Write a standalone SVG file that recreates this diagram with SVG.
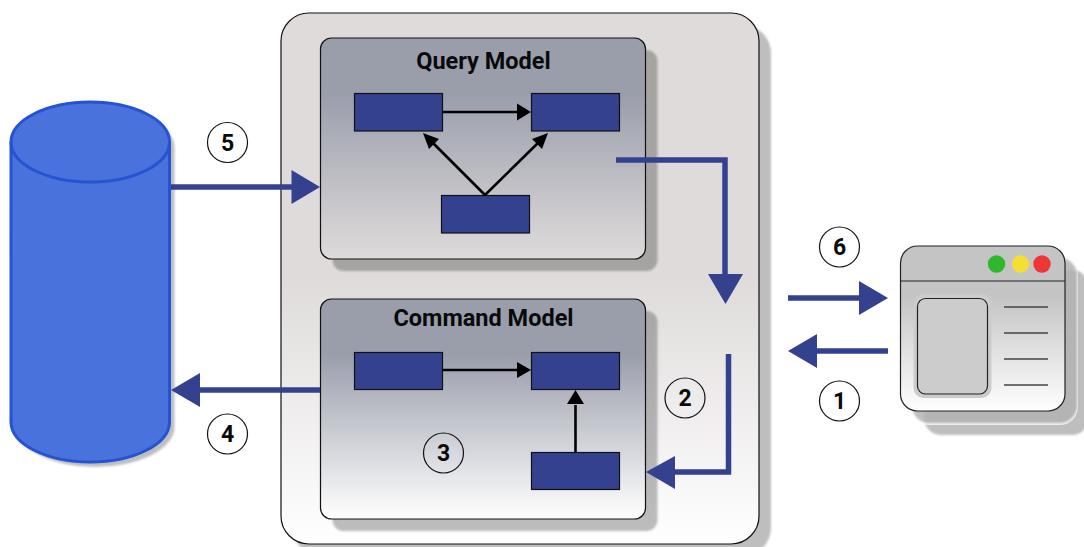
<svg xmlns="http://www.w3.org/2000/svg" width="1084" height="547" viewBox="0 0 1084 547">
<defs>
<linearGradient id="gOuter" x1="0" y1="0" x2="0" y2="1"><stop offset="0" stop-color="#dfdbdb"/><stop offset="0.5" stop-color="#dfdbdb"/><stop offset="1" stop-color="#ffffff"/></linearGradient>
<linearGradient id="gQ" x1="0" y1="0" x2="0" y2="1"><stop offset="0" stop-color="#9a9eab"/><stop offset="0.25" stop-color="#9a9eab"/><stop offset="1" stop-color="#dfdbdb"/></linearGradient>
<linearGradient id="gC" x1="0" y1="0" x2="0" y2="1"><stop offset="0" stop-color="#9a9eab"/><stop offset="0.25" stop-color="#9a9eab"/><stop offset="1" stop-color="#ffffff"/></linearGradient>
<linearGradient id="gB" x1="0" y1="0" x2="0" y2="1"><stop offset="0" stop-color="#c4c4c4"/><stop offset="0.3" stop-color="#c4c4c4"/><stop offset="1" stop-color="#ffffff"/></linearGradient>
<filter id="soft" x="-5%" y="-5%" width="110%" height="110%"><feGaussianBlur stdDeviation="1"/></filter>
</defs>
<style>
text{font-family:Roboto,"Liberation Sans",sans-serif;font-weight:700;fill:#0a0a0a;text-anchor:middle}
.t{font-size:23.500px}
.n{font-size:23px}
.s{fill:#000;opacity:.25;filter:url(#soft)}
.c{fill:#fff;stroke:#111;stroke-width:1.2}
.c3{fill:none;stroke:#111;stroke-width:1.2}
.b{fill:#33418f;stroke:#111;stroke-width:1.2}
.k{fill:none;stroke:#000;stroke-width:2.600}
.a{fill:none;stroke:#33418f;stroke-width:5.500}
.h{fill:#33418f}
.l{stroke:#444;stroke-width:1.300}
</style>
<g id="outer">
<rect class="s" x="293" y="25" width="478" height="531" rx="28"/>
<rect x="281" y="13" width="478" height="531" rx="28" fill="url(#gOuter)" stroke="#111" stroke-width="1.2"/>
</g>
<g id="query-model">
<rect class="s" x="332.500" y="50" width="325" height="221" rx="11"/>
<rect x="320.500" y="38" width="325" height="221" rx="11" fill="url(#gQ)" stroke="#111" stroke-width="1.2"/>
<text class="t" x="483.500" y="69">Query Model</text>
<rect class="b" x="354.500" y="93.500" width="88" height="37.500"/>
<rect class="b" x="531.500" y="93.500" width="88" height="37.500"/>
<rect class="b" x="441.500" y="195.500" width="88" height="37.500"/>
</g>
<g id="command-model">
<rect class="s" x="332.500" y="311" width="325" height="220" rx="11"/>
<rect x="320.500" y="299" width="325" height="220" rx="11" fill="url(#gC)" stroke="#111" stroke-width="1.2"/>
<text class="t" x="483.500" y="326">Command Model</text>
<rect class="b" x="354.500" y="352.500" width="88" height="37"/>
<rect class="b" x="531.500" y="352.500" width="88" height="37"/>
<rect class="b" x="531.500" y="452.500" width="88" height="37"/>
<circle class="c3" cx="443.500" cy="453" r="20"/>
<text class="n" x="443.500" y="461">3</text>
</g>
<g id="database">
<path class="s" d="M16 147A79.250 40 0 0 1 174.500 147V427A79.250 40 0 0 1 16 427Z"/>
<path d="M11 142A79.250 40 0 0 1 169.500 142V422A79.250 40 0 0 1 11 422Z" fill="#4a72dc" stroke="#2453d3" stroke-width="3"/>
<path d="M11 142A79.250 40 0 0 0 169.500 142" fill="none" stroke="#2453d3" stroke-width="3"/>
</g>
<g id="browser">
<rect class="s" x="924" y="270" width="165" height="165" rx="17"/>
<rect x="911" y="257" width="167" height="168" rx="18" fill="#fff" opacity=".8"/>
<rect class="s" x="912" y="258" width="165" height="165" rx="17"/>
<rect x="900.500" y="246" width="164.500" height="165" rx="17" fill="url(#gB)" stroke="#222" stroke-width="1.2"/>
<path d="M900.500 281H1065" stroke="#222" stroke-width="1.2"/>
<circle cx="996.500" cy="264" r="8.700" fill="#2eb82e"/>
<circle cx="1020.500" cy="264" r="8.700" fill="#f6df33"/>
<circle cx="1042" cy="264" r="8.700" fill="#ef3535"/>
<rect x="913.500" y="294" width="78" height="104" rx="10" fill="#cccccc"/>
<rect x="917.500" y="298.500" width="70" height="95.500" rx="8" fill="#cccccc" stroke="#222" stroke-width="1.2"/>
<path class="l" d="M1004 307H1048M1004 333H1048M1004 359H1048M1004 385H1048"/>
</g>
<g id="connectors">
<path class="k" d="M442.500 112H518"/>
<path d="M517 103.500L531 112L517 120.500Z"/>
<path class="k" d="M485 195L431 141"/>
<path d="M423 133L439 139L429 149Z"/>
<path class="k" d="M485 195L540 141"/>
<path d="M548 133L532 139L542 149Z"/>
<path class="k" d="M442.500 370H518"/>
<path d="M517 362L531 370L517 378Z"/>
<path class="k" d="M575.500 452V405"/>
<path d="M567 404L575.500 390L584 404Z"/>
<path class="a" d="M171 187H292"/><path class="h" d="M291.500 170L320 187L291.500 204Z"/>
<path class="a" d="M616 160H725V275"/><path class="h" d="M708 274L725.500 304L743 274Z"/>
<path class="a" d="M728.500 354V472H672"/><path class="h" d="M675 456L646 472L675 489Z"/>
<path class="a" d="M320 390H198"/><path class="h" d="M200 373L171 390L200 407Z"/>
<path class="a" d="M788 298H860"/><path class="h" d="M859 281L888 298L859 315Z"/>
<path class="a" d="M888 351H816"/><path class="h" d="M817 334L788 351L817 368Z"/>
</g>
<g id="step-labels">
<g id="step-5"><circle class="c" cx="227.500" cy="142.500" r="20"/><text class="n" x="227.500" y="150.500">5</text></g>
<g id="step-4"><circle class="c" cx="227.500" cy="434" r="20"/><text class="n" x="227.500" y="442">4</text></g>
<g id="step-6"><circle class="c" cx="839.500" cy="247" r="20"/><text class="n" x="839.500" y="255">6</text></g>
<g id="step-1"><circle class="c" cx="839.500" cy="401" r="20"/><text class="n" x="839.500" y="409">1</text></g>
<g id="step-2"><circle class="c3" cx="685" cy="398" r="20"/><text class="n" x="685" y="406">2</text></g>
</g>
</svg>
